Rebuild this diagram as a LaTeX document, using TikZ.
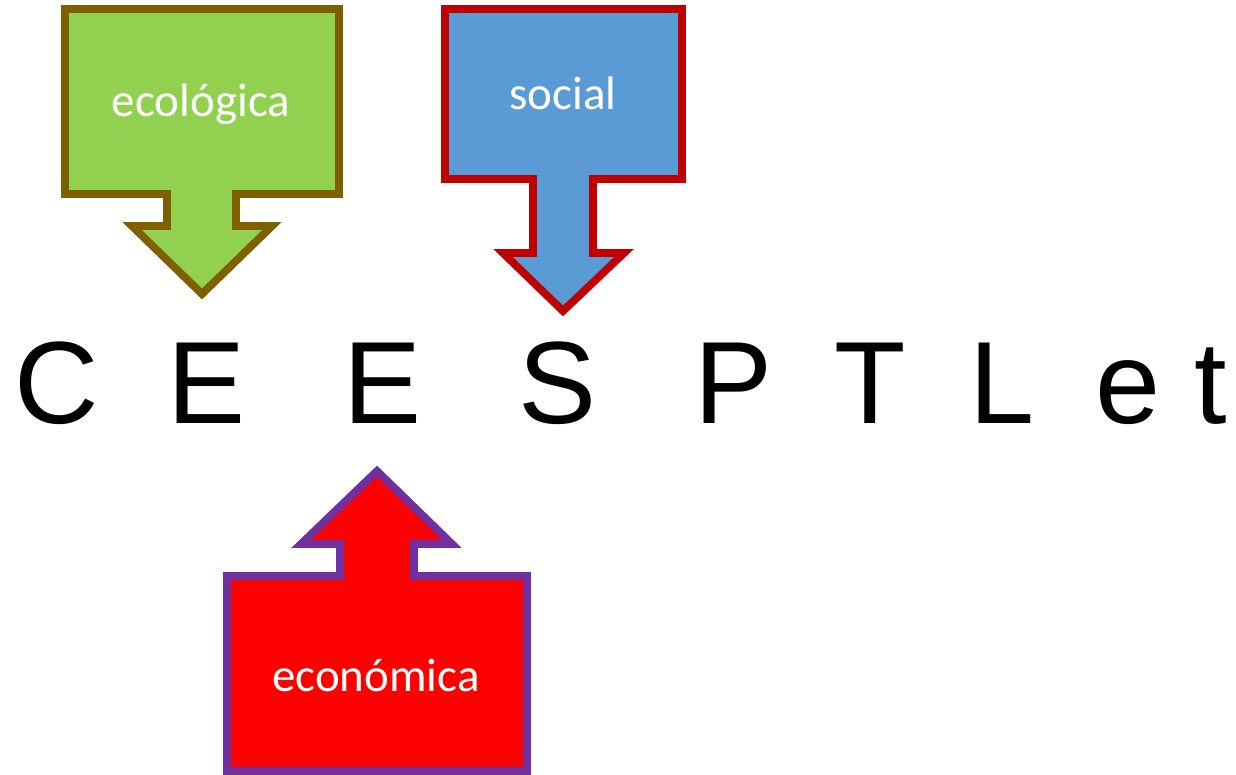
\documentclass[tikz,border=0pt]{standalone}
\usepackage{fontspec}
\setmainfont{Liberation Sans}
\newfontfamily\calib{Carlito}
\definecolor{ecofill}{HTML}{92D050}
\definecolor{ecoline}{HTML}{7F6000}
\definecolor{socfill}{HTML}{5B9BD5}
\definecolor{socline}{HTML}{C00000}
\definecolor{ecnfill}{HTML}{FF0000}
\definecolor{ecnline}{HTML}{7030A0}
\tikzset{
  callout/.style={line width=7.8pt, line join=miter, miter limit=10},
  lbl/.style={text=white, font=\calib\fontsize{47}{52}\selectfont, inner sep=0pt, anchor=base},
  big/.style={font=\fontsize{117}{120}\selectfont, inner sep=0pt, anchor=base west}
}
\begin{document}
\begin{tikzpicture}[x=1pt,y=-1pt]
\useasboundingbox (0,0) rectangle (1236,775);
% ecologica callout
\draw[callout, fill=ecofill, draw=ecoline]
  (65,9) -- (339,9) -- (339,194) -- (236,194) -- (236,226) -- (272,226) -- (202,294)
  -- (132,226) -- (167,226) -- (167,194) -- (65,194) -- cycle;
\node[lbl] (eco) at (201,117) {ecológica};
% social callout
\draw[callout, fill=socfill, draw=socline]
  (445,9) -- (682,9) -- (682,179) -- (593,179) -- (593,253) -- (624,253) -- (563,311)
  -- (503,253) -- (533,253) -- (533,179) -- (445,179) -- cycle;
\node[lbl] (soc) at (563,110) {social};
% economica callout
\draw[callout, fill=ecnfill, draw=ecnline]
  (227,771) -- (527,771) -- (527,576) -- (414,576) -- (414,544) -- (452,544) -- (377,471)
  -- (301,544) -- (340,544) -- (340,576) -- (227,576) -- cycle;
\node[lbl] (ecn) at (376,691) {económica};
% letters
\node[big] (l1) at (14,423) {C};
\node[big] (l2) at (167,423) {E};
\node[big] (l3) at (343,423) {E};
\node[big] (l4) at (518,423) {S};
\node[big] (l5) at (694,423) {P};
\node[big] (l6) at (834,423) {T};
\node[big] (l7) at (969,423) {L};
\node[big] (l8) at (1095,423) {e};
\node[big] (l9) at (1194,423) {t};
\end{tikzpicture}
\end{document}
